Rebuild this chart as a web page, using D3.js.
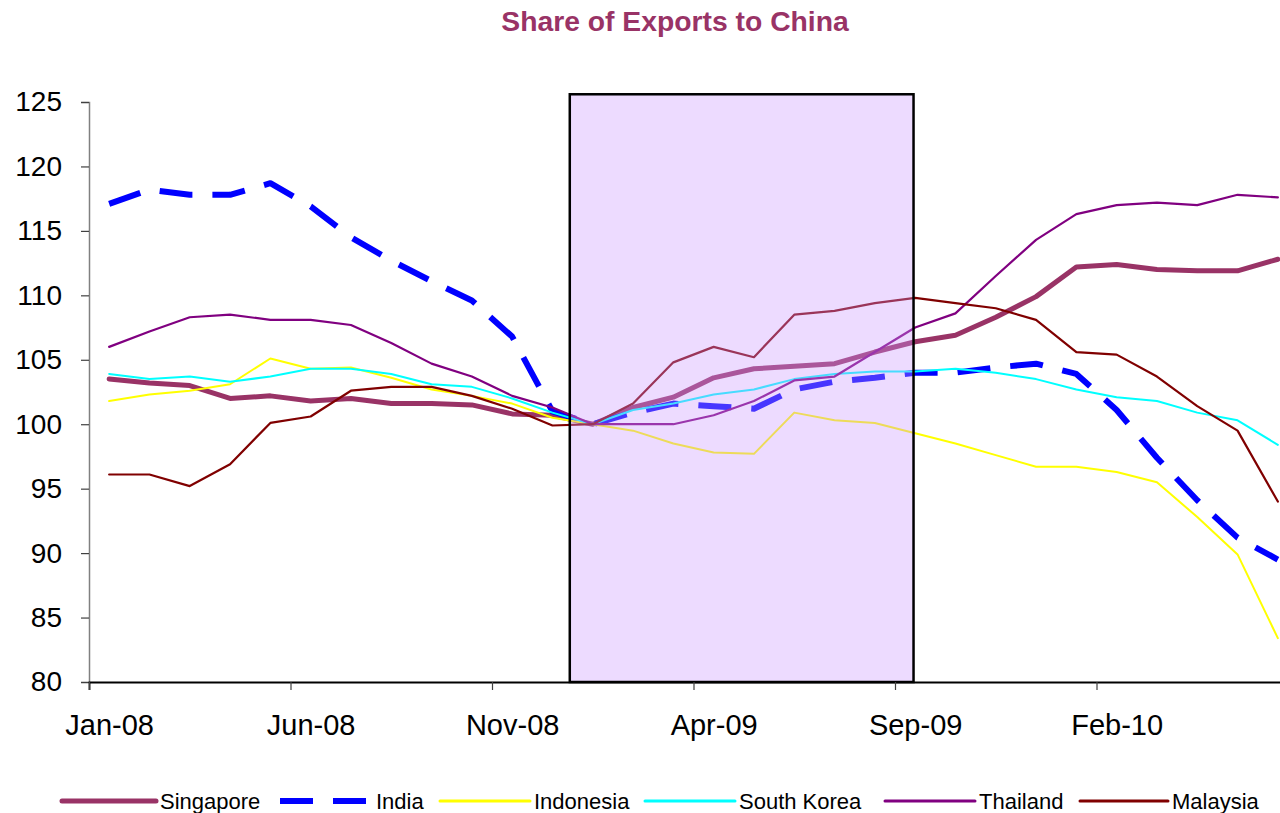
<!DOCTYPE html>
<html>
<head>
<meta charset="utf-8">
<script src="https://cdn.jsdelivr.net/npm/d3@7"></script>
<style>
  html, body { margin: 0; padding: 0; background: #ffffff; }
  svg { display: block; font-family: "Liberation Sans", Arial, sans-serif; }
</style>
</head>
<body>
<svg id="chart" width="1280" height="813"></svg>
<script>
// ---------- DATA ----------
const categories = ["Jan-08","Feb-08","Mar-08","Apr-08","May-08","Jun-08","Jul-08","Aug-08","Sep-08","Oct-08","Nov-08","Dec-08",
                    "Jan-09","Feb-09","Mar-09","Apr-09","May-09","Jun-09","Jul-09","Aug-09","Sep-09","Oct-09","Nov-09","Dec-09",
                    "Jan-10","Feb-10","Mar-10","Apr-10","May-10","Jun-10"];
const xTickLabels = ["Jan-08","Jun-08","Nov-08","Apr-09","Sep-09","Feb-10"];
const yTicks = [80,85,90,95,100,105,110,115,120,125];

const singapore  = [103.5,103.2,103.0,102.0,102.2,101.8,102.0,101.6,101.6,101.5,100.8,100.7,100.0,101.3,102.1,103.6,104.3,104.5,104.7,105.6,106.4,106.9,108.3,109.9,112.2,112.4,112.0,111.9,111.9,112.8];
const india      = [117.1,118.2,117.8,117.8,118.7,116.9,114.5,112.7,111.1,109.6,106.8,101.0,100.0,100.9,101.6,101.4,101.2,102.7,103.3,103.6,104.0,104.0,104.4,104.7,103.9,101.1,97.4,94.1,91.2,89.5];
const indonesia  = [101.8,102.3,102.6,103.1,105.1,104.3,104.4,103.6,102.7,102.2,101.6,100.5,100.0,99.5,98.5,97.8,97.7,100.9,100.3,100.1,99.3,98.5,97.6,96.7,96.7,96.3,95.5,92.8,89.9,83.4];
const southKorea = [103.9,103.5,103.7,103.3,103.7,104.3,104.3,103.9,103.1,102.9,102.0,100.9,100.0,101.1,101.6,102.3,102.7,103.5,103.9,104.1,104.1,104.3,104.0,103.5,102.7,102.1,101.8,100.9,100.3,98.4];
const thailand   = [106.0,107.2,108.3,108.5,108.1,108.1,107.7,106.3,104.7,103.7,102.2,101.3,100.0,100.0,100.0,100.7,101.8,103.4,103.7,105.6,107.5,108.6,111.5,114.3,116.3,117.0,117.2,117.0,117.8,117.6];
const malaysia   = [96.1,96.1,95.2,96.9,100.1,100.6,102.6,102.9,102.9,102.2,101.2,99.9,100.0,101.6,104.8,106.0,105.2,108.5,108.8,109.4,109.8,109.4,109.0,108.1,105.6,105.4,103.7,101.4,99.5,94.0];

const seriesNames = ["Singapore","India","Indonesia","South Korea","Thailand","Malaysia"];
const seriesValues = [singapore, india, indonesia, southKorea, thailand, malaysia];

// shaded period (category index space) and its top value
const shadeStart = 11.43, shadeEnd = 19.96, shadeTop = 125.6;

// ---------- STYLES ----------
const styles = {
  "Singapore":   {color:"#993366", width:5,   dash:null,    legendWidth:5},
  "India":       {color:"#0000FF", width:6,   dash:"33,20", legendWidth:6},
  "Indonesia":   {color:"#FFFF00", width:2,   dash:null,    legendWidth:3},
  "South Korea": {color:"#00FFFF", width:2,   dash:null,    legendWidth:3},
  "Thailand":    {color:"#800080", width:2.2, dash:null,    legendWidth:3},
  "Malaysia":    {color:"#800000", width:2.2, dash:null,    legendWidth:3}
};

const svg = d3.select("#chart");
const step = 40.3;
const x = d3.scaleLinear().domain([-0.5, 29.5]).range([89, 89 + 30 * step]);
const y = d3.scaleLinear().domain([80, 125]).range([682, 102]);

// title
svg.append("text")
  .attr("x", 675).attr("y", 31)
  .attr("text-anchor", "middle")
  .attr("font-size", 28.3).attr("font-weight", "bold")
  .attr("fill", "#993366")
  .text("Share of Exports to China");

// lines
const line = d3.line().x((d, i) => x(i)).y(d => y(d));
seriesNames.forEach((name, k) => {
  const s = styles[name];
  svg.append("path")
    .datum(seriesValues[k])
    .attr("d", line)
    .attr("fill", "none")
    .attr("stroke", s.color)
    .attr("stroke-width", s.width)
    .attr("stroke-linejoin", "round")
    .attr("stroke-linecap", s.dash ? "butt" : "round")
    .attr("stroke-dasharray", s.dash);
});

// shaded rectangle on top (semi-transparent)
svg.append("rect")
  .attr("x", x(shadeStart))
  .attr("y", y(shadeTop))
  .attr("width", x(shadeEnd) - x(shadeStart))
  .attr("height", y(80) - y(shadeTop))
  .attr("fill", "#CC99FF")
  .attr("fill-opacity", 0.35)
  .attr("stroke", "#000")
  .attr("stroke-width", 2.5);

// y axis
const yAxis = svg.append("g")
  .attr("transform", `translate(${x(-0.5)},0)`)
  .call(d3.axisLeft(y).tickValues(yTicks).tickSize(8).tickPadding(19).tickFormat(d3.format("d")));
yAxis.select(".domain").attr("stroke", "#808080").attr("stroke-width", 1.5);
yAxis.selectAll(".tick line").attr("stroke", "#404040").attr("stroke-width", 1.2);
yAxis.selectAll(".tick text").attr("font-size", 28).attr("fill", "#000")
  .attr("font-family", "'Liberation Sans', Arial, sans-serif");

// x axis: tick marks at category boundaries
const boundaryTicks = xTickLabels.map(l => categories.indexOf(l) - 0.5);
const xAxis = svg.append("g")
  .attr("transform", `translate(0,${y(80)})`)
  .call(d3.axisBottom(x).tickValues(boundaryTicks).tickSize(8).tickFormat(""));
xAxis.select(".domain").attr("stroke", "#000").attr("stroke-width", 1.8);
xAxis.selectAll(".tick line").attr("stroke", "#404040").attr("stroke-width", 1.2);

// x labels centered on categories
const labelTicks = xTickLabels.map(l => categories.indexOf(l));
const xLab = svg.append("g")
  .attr("transform", `translate(0,${y(80)})`)
  .call(d3.axisBottom(x).tickValues(labelTicks).tickSize(0).tickPadding(32)
    .tickFormat(d => categories[d]));
xLab.select(".domain").remove();
xLab.selectAll(".tick text").attr("font-size", 29).attr("fill", "#000")
  .attr("font-family", "'Liberation Sans', Arial, sans-serif");

// legend
const legendX = [62, 280, 440, 645, 885, 1080];
const legendLen = [94, 92, 90, 90, 90, 88];
const legendY = 801;
seriesNames.forEach((name, k) => {
  const s = styles[name];
  const g = svg.append("g");
  g.append("line")
    .attr("x1", legendX[k]).attr("x2", legendX[k] + legendLen[k])
    .attr("y1", legendY).attr("y2", legendY)
    .attr("stroke", s.color)
    .attr("stroke-width", s.legendWidth)
    .attr("stroke-linecap", s.dash ? "butt" : "round")
    .attr("stroke-dasharray", s.dash);
  g.append("text")
    .attr("x", legendX[k] + legendLen[k] + 4)
    .attr("y", legendY)
    .attr("dy", "0.35em")
    .attr("font-size", 22)
    .attr("fill", "#000")
    .text(name);
});
</script>
</body>
</html>
